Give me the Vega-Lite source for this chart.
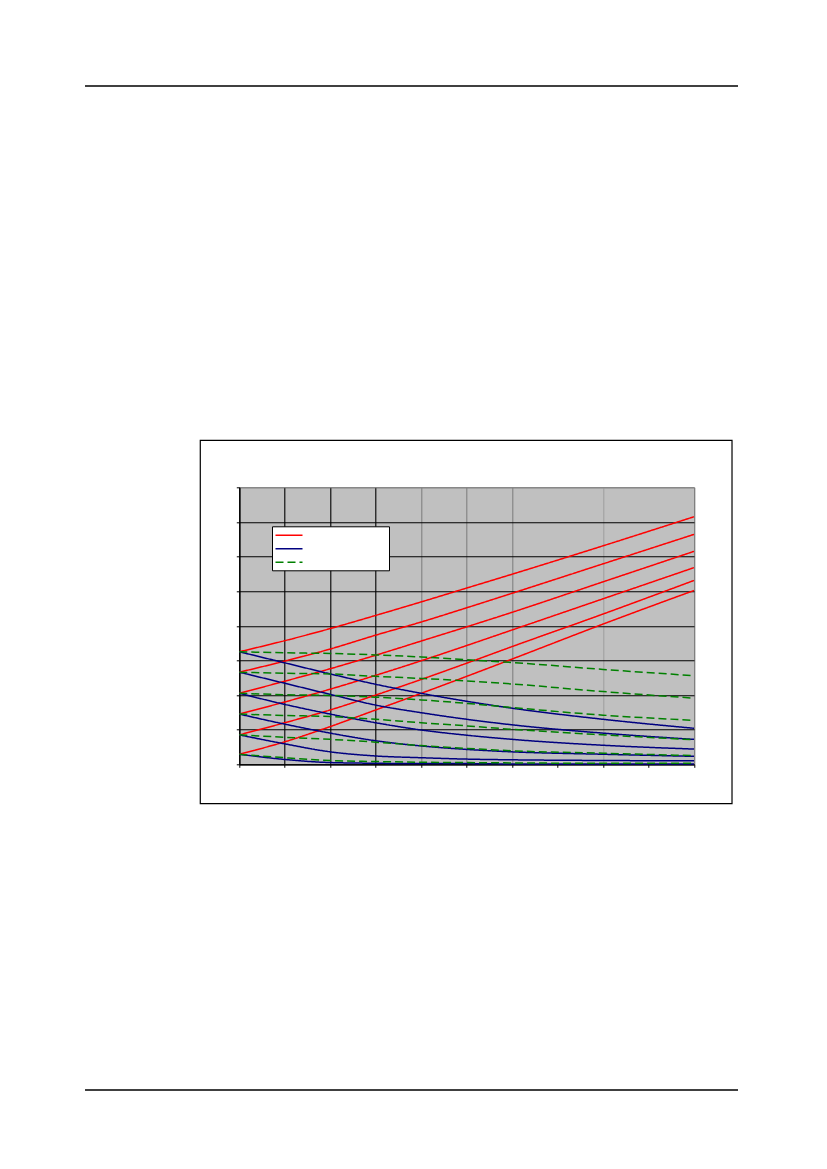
{
  "$schema": "https://vega.github.io/schema/vega-lite/v6.json",
  "autosize": {"type": "none"},
  "width": 454.7,
  "height": 277,
  "padding": {"left": 239.3, "top": 487.3, "right": 133, "bottom": 404.7},
  "background": "white",
  "config": {
    "font": "Liberation Sans",
    "view": {"fill": "#C0C0C0", "stroke": "#808080", "strokeWidth": 1}
  },
  "datasets": {
    "frame": [{"x": -0.858, "x2": 10.836, "y": -1.138, "y2": 9.357}],
    "page": [
      {"x": -3.393, "x2": 10.968, "y": 19.59},
      {"x": -3.393, "x2": 10.968, "y": -9.406}
    ],
    "curves": [
      {"kind": "rising", "curve": 1, "x": 0, "y": 3.25}, {"kind": "rising", "curve": 1, "x": 1, "y": 3.57}, {"kind": "rising", "curve": 1, "x": 2, "y": 3.92}, {"kind": "rising", "curve": 1, "x": 3, "y": 4.30}, {"kind": "rising", "curve": 1, "x": 4, "y": 4.69}, {"kind": "rising", "curve": 1, "x": 5, "y": 5.09}, {"kind": "rising", "curve": 1, "x": 6, "y": 5.49}, {"kind": "rising", "curve": 1, "x": 8, "y": 6.31}, {"kind": "rising", "curve": 1, "x": 10, "y": 7.15},
      {"kind": "rising", "curve": 2, "x": 0, "y": 2.66}, {"kind": "rising", "curve": 2, "x": 1, "y": 2.98}, {"kind": "rising", "curve": 2, "x": 2, "y": 3.33}, {"kind": "rising", "curve": 2, "x": 3, "y": 3.73}, {"kind": "rising", "curve": 2, "x": 4, "y": 4.11}, {"kind": "rising", "curve": 2, "x": 5, "y": 4.52}, {"kind": "rising", "curve": 2, "x": 6, "y": 4.94}, {"kind": "rising", "curve": 2, "x": 8, "y": 5.79}, {"kind": "rising", "curve": 2, "x": 10, "y": 6.64},
      {"kind": "rising", "curve": 3, "x": 0, "y": 2.05}, {"kind": "rising", "curve": 3, "x": 1, "y": 2.40}, {"kind": "rising", "curve": 3, "x": 2, "y": 2.76}, {"kind": "rising", "curve": 3, "x": 3, "y": 3.15}, {"kind": "rising", "curve": 3, "x": 4, "y": 3.56}, {"kind": "rising", "curve": 3, "x": 5, "y": 3.97}, {"kind": "rising", "curve": 3, "x": 6, "y": 4.39}, {"kind": "rising", "curve": 3, "x": 8, "y": 5.27}, {"kind": "rising", "curve": 3, "x": 10, "y": 6.15},
      {"kind": "rising", "curve": 4, "x": 0, "y": 1.45}, {"kind": "rising", "curve": 4, "x": 1, "y": 1.80}, {"kind": "rising", "curve": 4, "x": 2, "y": 2.17}, {"kind": "rising", "curve": 4, "x": 3, "y": 2.57}, {"kind": "rising", "curve": 4, "x": 4, "y": 2.99}, {"kind": "rising", "curve": 4, "x": 5, "y": 3.43}, {"kind": "rising", "curve": 4, "x": 6, "y": 3.88}, {"kind": "rising", "curve": 4, "x": 8, "y": 4.78}, {"kind": "rising", "curve": 4, "x": 10, "y": 5.68},
      {"kind": "rising", "curve": 5, "x": 0, "y": 0.85}, {"kind": "rising", "curve": 5, "x": 1, "y": 1.20}, {"kind": "rising", "curve": 5, "x": 2, "y": 1.57}, {"kind": "rising", "curve": 5, "x": 3, "y": 2.00}, {"kind": "rising", "curve": 5, "x": 4, "y": 2.45}, {"kind": "rising", "curve": 5, "x": 5, "y": 2.92}, {"kind": "rising", "curve": 5, "x": 6, "y": 3.40}, {"kind": "rising", "curve": 5, "x": 8, "y": 4.34}, {"kind": "rising", "curve": 5, "x": 10, "y": 5.31},
      {"kind": "rising", "curve": 6, "x": 0, "y": 0.29}, {"kind": "rising", "curve": 6, "x": 1, "y": 0.65}, {"kind": "rising", "curve": 6, "x": 2, "y": 1.09}, {"kind": "rising", "curve": 6, "x": 3, "y": 1.57}, {"kind": "rising", "curve": 6, "x": 4, "y": 2.05}, {"kind": "rising", "curve": 6, "x": 5, "y": 2.54}, {"kind": "rising", "curve": 6, "x": 6, "y": 3.04}, {"kind": "rising", "curve": 6, "x": 8, "y": 4.05}, {"kind": "rising", "curve": 6, "x": 10, "y": 5.02},
      {"kind": "falling", "curve": 1, "x": 0, "y": 3.25}, {"kind": "falling", "curve": 1, "x": 1, "y": 2.93}, {"kind": "falling", "curve": 1, "x": 2, "y": 2.61}, {"kind": "falling", "curve": 1, "x": 3, "y": 2.31}, {"kind": "falling", "curve": 1, "x": 4, "y": 2.05}, {"kind": "falling", "curve": 1, "x": 5, "y": 1.82}, {"kind": "falling", "curve": 1, "x": 6, "y": 1.62}, {"kind": "falling", "curve": 1, "x": 8, "y": 1.30}, {"kind": "falling", "curve": 1, "x": 10, "y": 1.04},
      {"kind": "falling", "curve": 2, "x": 0, "y": 2.66}, {"kind": "falling", "curve": 2, "x": 1, "y": 2.34}, {"kind": "falling", "curve": 2, "x": 2, "y": 2.02}, {"kind": "falling", "curve": 2, "x": 3, "y": 1.71}, {"kind": "falling", "curve": 2, "x": 4, "y": 1.49}, {"kind": "falling", "curve": 2, "x": 5, "y": 1.30}, {"kind": "falling", "curve": 2, "x": 6, "y": 1.14}, {"kind": "falling", "curve": 2, "x": 8, "y": 0.90}, {"kind": "falling", "curve": 2, "x": 10, "y": 0.72},
      {"kind": "falling", "curve": 3, "x": 0, "y": 2.05}, {"kind": "falling", "curve": 3, "x": 1, "y": 1.73}, {"kind": "falling", "curve": 3, "x": 2, "y": 1.45}, {"kind": "falling", "curve": 3, "x": 3, "y": 1.20}, {"kind": "falling", "curve": 3, "x": 4, "y": 0.99}, {"kind": "falling", "curve": 3, "x": 5, "y": 0.84}, {"kind": "falling", "curve": 3, "x": 6, "y": 0.72}, {"kind": "falling", "curve": 3, "x": 8, "y": 0.55}, {"kind": "falling", "curve": 3, "x": 10, "y": 0.44},
      {"kind": "falling", "curve": 4, "x": 0, "y": 1.45}, {"kind": "falling", "curve": 4, "x": 1, "y": 1.16}, {"kind": "falling", "curve": 4, "x": 2, "y": 0.90}, {"kind": "falling", "curve": 4, "x": 3, "y": 0.68}, {"kind": "falling", "curve": 4, "x": 4, "y": 0.53}, {"kind": "falling", "curve": 4, "x": 5, "y": 0.43}, {"kind": "falling", "curve": 4, "x": 6, "y": 0.36}, {"kind": "falling", "curve": 4, "x": 8, "y": 0.29}, {"kind": "falling", "curve": 4, "x": 10, "y": 0.23},
      {"kind": "falling", "curve": 5, "x": 0, "y": 0.85}, {"kind": "falling", "curve": 5, "x": 1, "y": 0.59}, {"kind": "falling", "curve": 5, "x": 2, "y": 0.36}, {"kind": "falling", "curve": 5, "x": 3, "y": 0.24}, {"kind": "falling", "curve": 5, "x": 4, "y": 0.19}, {"kind": "falling", "curve": 5, "x": 5, "y": 0.15}, {"kind": "falling", "curve": 5, "x": 6, "y": 0.13}, {"kind": "falling", "curve": 5, "x": 8, "y": 0.11}, {"kind": "falling", "curve": 5, "x": 10, "y": 0.10},
      {"kind": "falling", "curve": 6, "x": 0, "y": 0.29}, {"kind": "falling", "curve": 6, "x": 1, "y": 0.14}, {"kind": "falling", "curve": 6, "x": 2, "y": 0.05}, {"kind": "falling", "curve": 6, "x": 3, "y": 0.03}, {"kind": "falling", "curve": 6, "x": 4, "y": 0.02}, {"kind": "falling", "curve": 6, "x": 5, "y": 0.02}, {"kind": "falling", "curve": 6, "x": 6, "y": 0.01}, {"kind": "falling", "curve": 6, "x": 8, "y": 0.01}, {"kind": "falling", "curve": 6, "x": 10, "y": 0.01},
      {"kind": "flat", "curve": 1, "x": 0, "y": 3.25}, {"kind": "flat", "curve": 1, "x": 1, "y": 3.22}, {"kind": "flat", "curve": 1, "x": 2, "y": 3.20}, {"kind": "flat", "curve": 1, "x": 3, "y": 3.16}, {"kind": "flat", "curve": 1, "x": 4, "y": 3.10}, {"kind": "flat", "curve": 1, "x": 5, "y": 3.02}, {"kind": "flat", "curve": 1, "x": 6, "y": 2.94}, {"kind": "flat", "curve": 1, "x": 8, "y": 2.74}, {"kind": "flat", "curve": 1, "x": 10, "y": 2.56},
      {"kind": "flat", "curve": 2, "x": 0, "y": 2.66}, {"kind": "flat", "curve": 2, "x": 1, "y": 2.63}, {"kind": "flat", "curve": 2, "x": 2, "y": 2.61}, {"kind": "flat", "curve": 2, "x": 3, "y": 2.54}, {"kind": "flat", "curve": 2, "x": 4, "y": 2.48}, {"kind": "flat", "curve": 2, "x": 5, "y": 2.41}, {"kind": "flat", "curve": 2, "x": 6, "y": 2.32}, {"kind": "flat", "curve": 2, "x": 8, "y": 2.10}, {"kind": "flat", "curve": 2, "x": 10, "y": 1.91},
      {"kind": "flat", "curve": 3, "x": 0, "y": 2.05}, {"kind": "flat", "curve": 3, "x": 1, "y": 2.01}, {"kind": "flat", "curve": 3, "x": 2, "y": 1.99}, {"kind": "flat", "curve": 3, "x": 3, "y": 1.94}, {"kind": "flat", "curve": 3, "x": 4, "y": 1.86}, {"kind": "flat", "curve": 3, "x": 5, "y": 1.76}, {"kind": "flat", "curve": 3, "x": 6, "y": 1.64}, {"kind": "flat", "curve": 3, "x": 8, "y": 1.42}, {"kind": "flat", "curve": 3, "x": 10, "y": 1.27},
      {"kind": "flat", "curve": 4, "x": 0, "y": 1.45}, {"kind": "flat", "curve": 4, "x": 1, "y": 1.41}, {"kind": "flat", "curve": 4, "x": 2, "y": 1.38}, {"kind": "flat", "curve": 4, "x": 3, "y": 1.30}, {"kind": "flat", "curve": 4, "x": 4, "y": 1.20}, {"kind": "flat", "curve": 4, "x": 5, "y": 1.11}, {"kind": "flat", "curve": 4, "x": 6, "y": 1.01}, {"kind": "flat", "curve": 4, "x": 8, "y": 0.85}, {"kind": "flat", "curve": 4, "x": 10, "y": 0.71},
      {"kind": "flat", "curve": 5, "x": 0, "y": 0.85}, {"kind": "flat", "curve": 5, "x": 1, "y": 0.78}, {"kind": "flat", "curve": 5, "x": 2, "y": 0.72}, {"kind": "flat", "curve": 5, "x": 3, "y": 0.64}, {"kind": "flat", "curve": 5, "x": 4, "y": 0.54}, {"kind": "flat", "curve": 5, "x": 5, "y": 0.46}, {"kind": "flat", "curve": 5, "x": 6, "y": 0.39}, {"kind": "flat", "curve": 5, "x": 8, "y": 0.32}, {"kind": "flat", "curve": 5, "x": 10, "y": 0.25},
      {"kind": "flat", "curve": 6, "x": 0, "y": 0.29}, {"kind": "flat", "curve": 6, "x": 1, "y": 0.19}, {"kind": "flat", "curve": 6, "x": 2, "y": 0.11}, {"kind": "flat", "curve": 6, "x": 3, "y": 0.08}, {"kind": "flat", "curve": 6, "x": 4, "y": 0.06}, {"kind": "flat", "curve": 6, "x": 5, "y": 0.05}, {"kind": "flat", "curve": 6, "x": 6, "y": 0.04}, {"kind": "flat", "curve": 6, "x": 8, "y": 0.03}, {"kind": "flat", "curve": 6, "x": 10, "y": 0.03}
    ]
  },
  "encoding": {
    "x": {
      "field": "x", "type": "quantitative",
      "scale": {"domain": [0, 10], "nice": false, "zero": false},
      "axis": {
        "title": null, "labels": false, "values": [0, 1, 2, 3, 4, 5, 6, 7, 8, 9, 10],
        "domainColor": "black", "domainWidth": 1.2, "tickColor": "black", "tickSize": 3, "tickWidth": 1,
        "grid": true, "gridWidth": 1.1, "gridOpacity": 1,
        "gridColor": {
          "condition": [
            {"test": "datum.value <= 3", "value": "black"},
            {"test": "datum.value <= 6 || datum.value === 10", "value": "#808080"},
            {"test": "datum.value === 8", "value": "#A0A0A0"}
          ],
          "value": "rgba(0,0,0,0)"
        }
      }
    },
    "y": {
      "field": "y", "type": "quantitative",
      "scale": {"domain": [0, 8], "nice": false, "zero": false},
      "axis": {
        "title": null, "labels": false, "values": [0, 1, 2, 3, 4, 5, 6, 7, 8],
        "domainColor": "black", "domainWidth": 1.2, "tickColor": "black", "tickSize": 3, "tickWidth": 1,
        "grid": true, "gridWidth": 1.1, "gridOpacity": 1,
        "gridColor": {
          "condition": {"test": "datum.value === 8", "value": "#808080"},
          "value": "black"
        }
      }
    }
  },
  "layer": [
    {
      "data": {"name": "curves"},
      "mark": {"type": "line", "interpolate": "monotone"},
      "encoding": {
        "detail": {"field": "curve", "type": "nominal"},
        "strokeWidth": {
          "field": "kind", "type": "nominal",
          "scale": {"domain": ["rising", "falling", "flat"], "range": [1.5, 1.5, 1.9]},
          "legend": null
        },
        "color": {
          "field": "kind", "type": "nominal",
          "scale": {"domain": ["rising", "falling", "flat"], "range": ["#FF0000", "#000080", "#008000"]},
          "legend": {
            "orient": "none", "legendX": 32.7, "legendY": 39, "title": null,
            "fillColor": "white", "strokeColor": "black", "padding": 3,
            "labelExpr": "''", "labelOffset": 91, "rowPadding": 2.5, "symbolOffset": 8,
            "symbolType": "M-2.7,0H2.7", "symbolSize": 100, "symbolStrokeWidth": 1.6
          }
        },
        "strokeDash": {
          "field": "kind", "type": "nominal",
          "scale": {"domain": ["rising", "falling", "flat"], "range": [[1, 0], [1, 0], [8, 4]]},
          "legend": {
            "orient": "none", "legendX": 32.7, "legendY": 39, "title": null,
            "fillColor": "white", "strokeColor": "black", "padding": 3,
            "labelExpr": "''", "labelOffset": 91, "rowPadding": 2.5, "symbolOffset": 8,
            "symbolType": "M-2.7,0H2.7", "symbolSize": 100, "symbolStrokeWidth": 1.6
          }
        }
      }
    },
    {
      "data": {"name": "frame"},
      "mark": {"type": "rect", "filled": false, "stroke": "black", "strokeWidth": 1.2},
      "encoding": {
        "x2": {"field": "x2"},
        "y2": {"field": "y2"}
      }
    },
    {
      "data": {"name": "page"},
      "mark": {"type": "rule", "stroke": "black", "strokeWidth": 1.4},
      "encoding": {
        "x2": {"field": "x2"}
      }
    }
  ]
}
